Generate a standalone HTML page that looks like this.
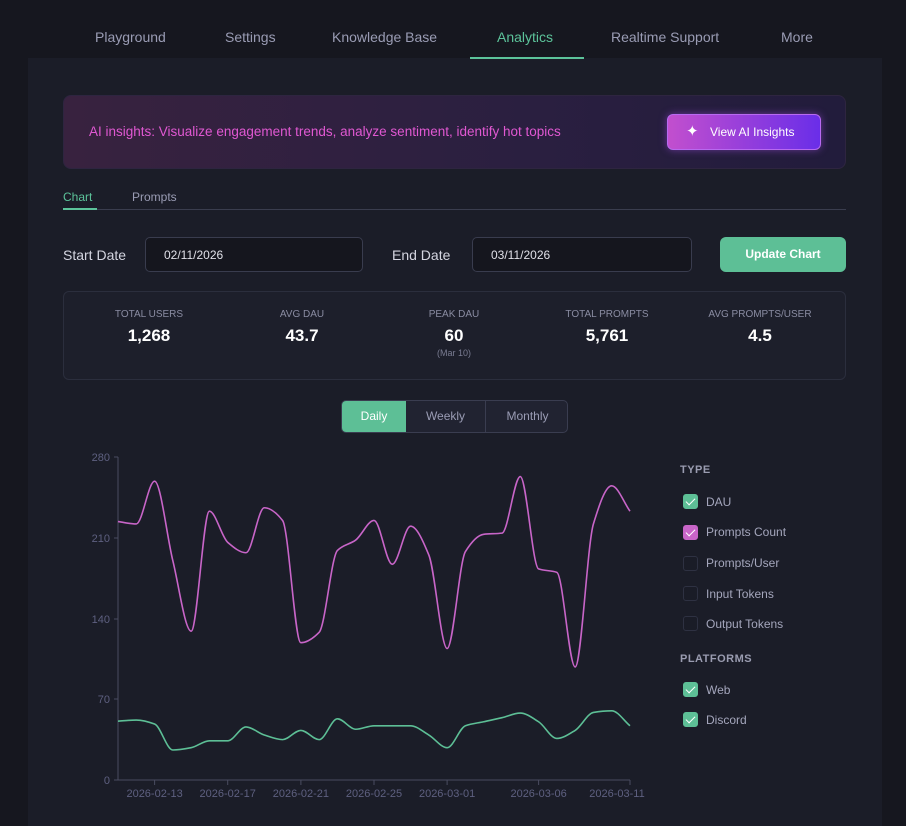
<!DOCTYPE html>
<html style="width:906px;height:826px;overflow:hidden"><head><meta charset="utf-8"><style>
*{box-sizing:border-box;margin:0;padding:0}
body{width:906px;height:826px;background:#16171f;font-family:"Liberation Sans",sans-serif;position:relative;overflow:hidden;color:#d0d1dc}
.a{position:absolute;white-space:nowrap}
.nav{font-size:14px;color:#9a9cb4;top:29px}
.panel{position:absolute;left:28px;top:58px;width:854px;height:768px;background:#1b1d28}
.cb{position:absolute;width:15px;height:15px;border-radius:3px;border:1px solid #2e3142;background:#1a1c27}
.cb.g{background:#5dbf96;border-color:#5dbf96}
.cb.p{background:#c865c8;border-color:#c865c8}
.cb.g::after,.cb.p::after{content:"";position:absolute;left:4px;top:1px;width:4px;height:8px;border:solid #fff;border-width:0 1.5px 1.5px 0;transform:rotate(45deg)}
.lt{font-size:12px;color:#a4a6bc;position:absolute;left:706px}
.sl{font-size:10px;color:#8a8ca2;text-align:center;width:150px;top:309px}
.sv{font-size:17px;font-weight:bold;color:#fff;text-align:center;width:150px;top:326px}
.tick{font-size:11px;fill:#5e6080;font-family:"Liberation Sans",sans-serif}
</style></head><body>
<div class="a nav" style="left:95px">Playground</div>
<div class="a nav" style="left:225px">Settings</div>
<div class="a nav" style="left:332px">Knowledge Base</div>
<div class="a nav" style="left:497px;color:#5cc39a">Analytics</div>
<div class="a nav" style="left:611px">Realtime Support</div>
<div class="a nav" style="left:781px">More</div>
<div class="panel"></div>
<div class="a" style="left:470px;top:57px;width:114px;height:2px;background:#5cc39a"></div>
<div class="a" style="left:63px;top:95px;width:783px;height:74px;border-radius:8px;background:linear-gradient(90deg,#38223f,#2a1f40 60%,#221c3c);border:1px solid #2e2540"></div>
<div class="a" style="left:89px;top:124px;font-size:13.5px;color:#e058d2">AI insights: Visualize engagement trends, analyze sentiment, identify hot topics</div>
<div class="a" style="left:667px;top:114px;width:154px;height:36px;border-radius:6px;background:linear-gradient(90deg,#c24fce,#6a2ee8);border:1px solid #b86af0;box-shadow:0 0 8px rgba(170,80,240,.5);color:#fff;font-size:12px;line-height:34px;padding-left:42px">View AI Insights</div>
<div class="a" style="left:686px;top:122px;color:#fff;font-size:15px">✦</div>
<div class="a" style="left:63px;top:190px;font-size:12px;color:#5cc39a">Chart</div>
<div class="a" style="left:132px;top:190px;font-size:12px;color:#9a9cb4">Prompts</div>
<div class="a" style="left:63px;top:209px;width:783px;height:1px;background:#3a3d4e"></div>
<div class="a" style="left:63px;top:208px;width:34px;height:2px;background:#5cc39a"></div>
<div class="a" style="left:63px;top:247px;font-size:14px;color:#d4d5e0">Start Date</div>
<div class="a" style="left:145px;top:237px;width:218px;height:35px;background:#15161e;border:1px solid #393c4e;border-radius:5px;font-size:12px;color:#e0e0e8;padding:10px 0 0 18px">02/11/2026</div>
<div class="a" style="left:392px;top:247px;font-size:14px;color:#d4d5e0">End Date</div>
<div class="a" style="left:472px;top:237px;width:220px;height:35px;background:#15161e;border:1px solid #393c4e;border-radius:5px;font-size:12px;color:#e0e0e8;padding:10px 0 0 18px">03/11/2026</div>
<div class="a" style="left:720px;top:237px;width:126px;height:35px;background:#5dbf96;border-radius:6px;color:#fff;font-size:12px;font-weight:bold;text-align:center;line-height:35px">Update Chart</div>
<div class="a" style="left:63px;top:291px;width:783px;height:89px;border:1px solid #2b2e3d;border-radius:6px;background:#1d1f2b"></div>
<div class="a sl" style="left:74px">TOTAL USERS</div><div class="a sv" style="left:74px">1,268</div>
<div class="a sl" style="left:227px">AVG DAU</div><div class="a sv" style="left:227px">43.7</div>
<div class="a sl" style="left:379px">PEAK DAU</div><div class="a sv" style="left:379px">60</div>
<div class="a" style="left:379px;top:348px;width:150px;text-align:center;font-size:9px;color:#7a7c92">(Mar 10)</div>
<div class="a sl" style="left:532px">TOTAL PROMPTS</div><div class="a sv" style="left:532px">5,761</div>
<div class="a sl" style="left:685px">AVG PROMPTS/USER</div><div class="a sv" style="left:685px">4.5</div>
<div class="a" style="left:341px;top:400px;width:227px;height:33px;border:1px solid #3a3d50;border-radius:5px;background:#212331;overflow:hidden;font-size:12px;color:#9a9cb4;line-height:31px">
<div class="a" style="left:0;top:0;width:64px;height:31px;background:#5dbf96;color:#fff;text-align:center">Daily</div>
<div class="a" style="left:64px;top:0;width:80px;height:31px;text-align:center;border-right:1px solid #3a3d50">Weekly</div>
<div class="a" style="left:144px;top:0;width:83px;height:31px;text-align:center">Monthly</div>
</div>
<svg class="a" style="left:0;top:0" width="906" height="826">
<g stroke="#4a4c60" stroke-width="1">
<line x1="118" y1="457" x2="118" y2="780"/><line x1="118" y1="780" x2="630" y2="780"/>
<line x1="114" y1="457" x2="118" y2="457"/><line x1="114" y1="538" x2="118" y2="538"/><line x1="114" y1="619" x2="118" y2="619"/><line x1="114" y1="699" x2="118" y2="699"/><line x1="114" y1="780" x2="118" y2="780"/>
<line x1="154.6" y1="780" x2="154.6" y2="785"/><line x1="227.7" y1="780" x2="227.7" y2="785"/><line x1="300.9" y1="780" x2="300.9" y2="785"/><line x1="374" y1="780" x2="374" y2="785"/><line x1="447.1" y1="780" x2="447.1" y2="785"/><line x1="538.6" y1="780" x2="538.6" y2="785"/><line x1="630" y1="780" x2="630" y2="785"/>
</g>
<g class="tick" text-anchor="end">
<text x="110" y="461">280</text><text x="110" y="542">210</text><text x="110" y="623">140</text><text x="110" y="703">70</text><text x="110" y="784">0</text>
</g>
<g class="tick" text-anchor="middle">
<text x="154.6" y="797">2026-02-13</text><text x="227.7" y="797">2026-02-17</text><text x="300.9" y="797">2026-02-21</text><text x="374" y="797">2026-02-25</text><text x="447.1" y="797">2026-03-01</text><text x="538.6" y="797">2026-03-06</text><text x="617" y="797">2026-03-11</text>
</g>
<path id="pk" fill="none" stroke="#c865c8" stroke-width="1.6"/>
<path id="gr" fill="none" stroke="#5dbf96" stroke-width="1.6"/>
</svg>
<div class="a" style="left:680px;top:464px;font-size:11px;font-weight:bold;color:#9a9cb0;letter-spacing:.5px">TYPE</div>
<div class="cb g" style="left:683px;top:494px"></div><div class="lt" style="top:495px">DAU</div>
<div class="cb p" style="left:683px;top:525px"></div><div class="lt" style="top:525px">Prompts Count</div>
<div class="cb" style="left:683px;top:556px"></div><div class="lt" style="top:556px">Prompts/User</div>
<div class="cb" style="left:683px;top:586px"></div><div class="lt" style="top:587px">Input Tokens</div>
<div class="cb" style="left:683px;top:616px"></div><div class="lt" style="top:617px">Output Tokens</div>
<div class="a" style="left:680px;top:653px;font-size:11px;font-weight:bold;color:#9a9cb0;letter-spacing:.5px">PLATFORMS</div>
<div class="cb g" style="left:683px;top:682px"></div><div class="lt" style="top:683px">Web</div>
<div class="cb g" style="left:683px;top:712px"></div><div class="lt" style="top:713px">Discord</div>
<script>
var P=[224,222,259,190,129,233,206,197,236,225,119,128,199,208,225,187,220,195,114,198,213,214,263,183,180,98,222,255,233];
var G=[51,52,48.5,26,28,34,34,46,39,35,43,35,53,44,47,47,47,39,28,47,50.5,54,58,50.5,36,43,58.6,60,47];
function path(v){var n=v.length,x=[],y=[];for(var i=0;i<n;i++){x.push(118+i*512/28);y.push(780-v[i]*323/280);}
var d=[],m=[];for(i=0;i<n-1;i++)d.push((y[i+1]-y[i])/(x[i+1]-x[i]));
m[0]=d[0];m[n-1]=d[n-2];for(i=1;i<n-1;i++){m[i]=(d[i-1]*d[i]<=0)?0:(2*d[i-1]*d[i])/(d[i-1]+d[i]);}
var s="M"+x[0]+","+y[0];for(i=0;i<n-1;i++){var h=(x[i+1]-x[i])/3;s+="C"+(x[i]+h)+","+(y[i]+m[i]*h)+" "+(x[i+1]-h)+","+(y[i+1]-m[i+1]*h)+" "+x[i+1]+","+y[i+1];}return s;}
document.getElementById("pk").setAttribute("d",path(P));
document.getElementById("gr").setAttribute("d",path(G));
</script>
</body></html>
